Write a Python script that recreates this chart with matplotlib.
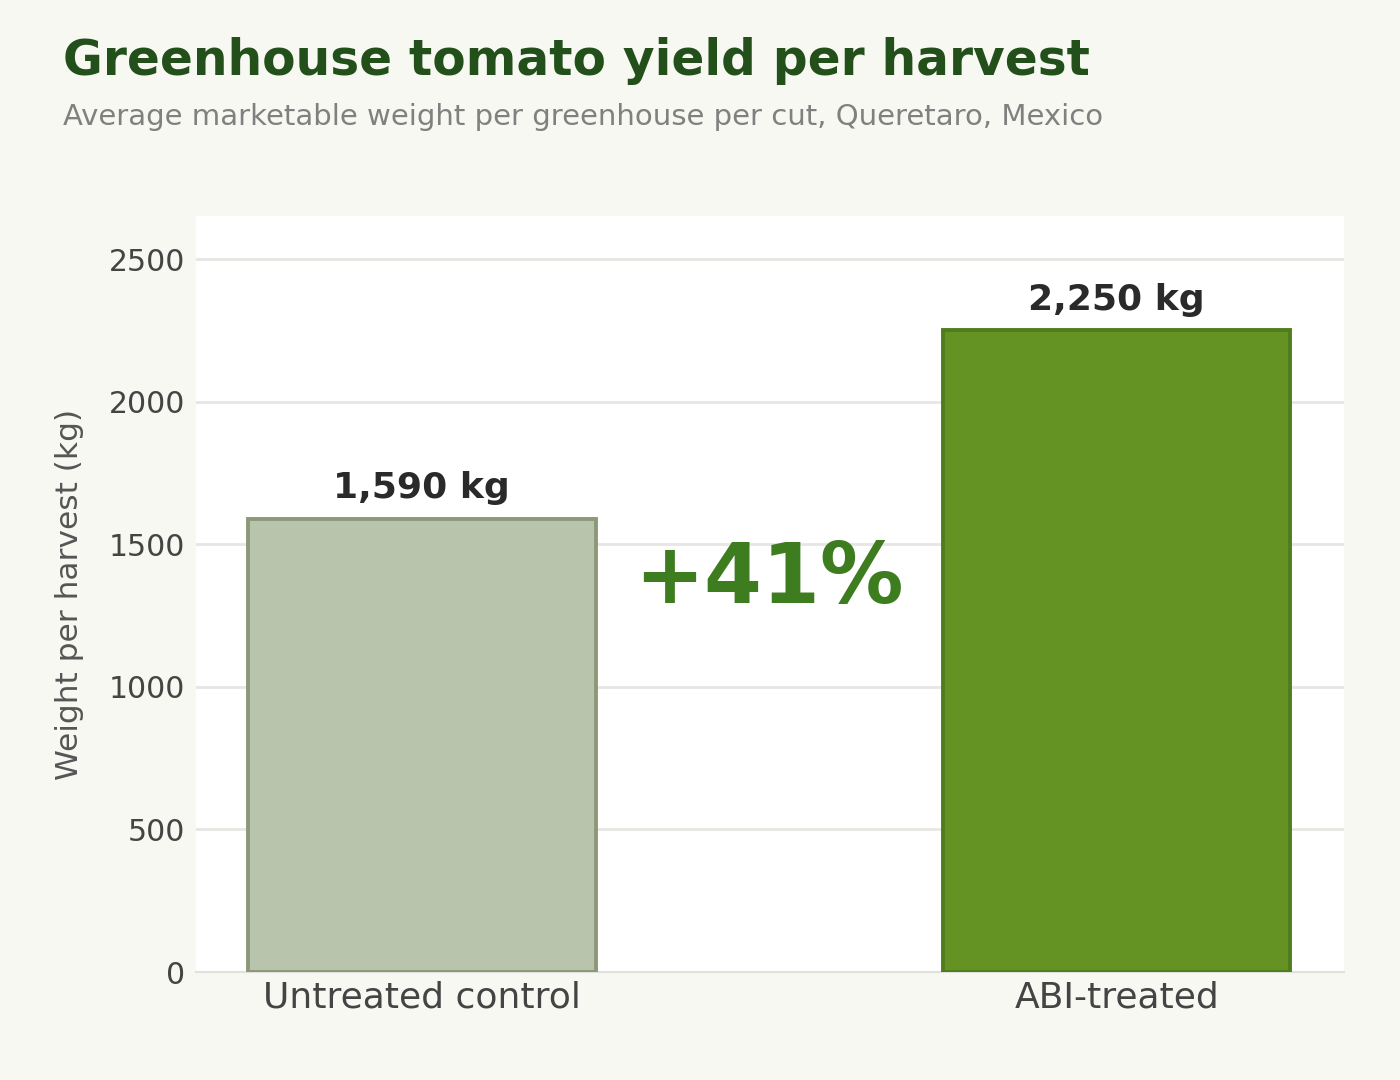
import matplotlib
matplotlib.use("Agg")
import matplotlib.pyplot as plt

categories = ["Untreated control", "ABI-treated"]
values = [1590, 2250]
value_labels = ["1,590 kg", "2,250 kg"]
uplift_label = "+41%"
yticks = [0, 500, 1000, 1500, 2000, 2500]

fig = plt.figure(figsize=(14, 10.8), dpi=100)
fig.patch.set_facecolor("#f7f8f2")
ax = fig.add_axes([196/1400, 1-972/1080, (1344-196)/1400, (972-216)/1080])
ax.set_facecolor("white")

x = list(range(len(categories)))
ax.bar(x, values, width=0.5, color=["#b9c4ad", "#659323"],
       edgecolor=["#8c9878", "#4f7d1e"], linewidth=2.8, zorder=3)
for xi, v, lab in zip(x, values, value_labels):
    ax.text(xi, v + 48, lab, ha="center", va="bottom", fontsize=26,
            fontweight="bold", color="#2a2a2a", zorder=4)

ax.text(0.5, 1378, uplift_label, ha="center", va="center", fontsize=60,
        fontweight="bold", color="#3d7c1f", zorder=4)

ax.set_xlim(-0.325, 1.327)
ax.set_ylim(0, 2651)
ax.set_xticks(x)
ax.set_xticklabels(categories, fontsize=26, color="#444444")
ax.set_yticks(yticks)
ax.set_yticklabels([str(t) for t in yticks], fontsize=21.5, color="#444444")
ax.tick_params(axis="both", length=0)
ax.tick_params(axis="x", pad=6)
ax.tick_params(axis="y", pad=8)
ax.grid(axis="y", color="#e6e6e2", linewidth=2, zorder=0)
ax.set_axisbelow(True)
for s in ["top", "right", "left"]:
    ax.spines[s].set_visible(False)
ax.spines["bottom"].set_color("#e0e0dc")
ax.spines["bottom"].set_linewidth(1.5)
ax.set_ylabel("Weight per harvest (kg)", fontsize=22.5, color="#555555", labelpad=18)

fig.text(63/1400, 1-61/1080, "Greenhouse tomato yield per harvest", fontsize=35,
         fontweight="bold", color="#224f1a", ha="left", va="center")
fig.text(63/1400, 1-117/1080, "Average marketable weight per greenhouse per cut, Queretaro, Mexico",
         fontsize=21, color="#808080", ha="left", va="center")

fig.savefig("out.png", dpi=100, facecolor=fig.get_facecolor())
